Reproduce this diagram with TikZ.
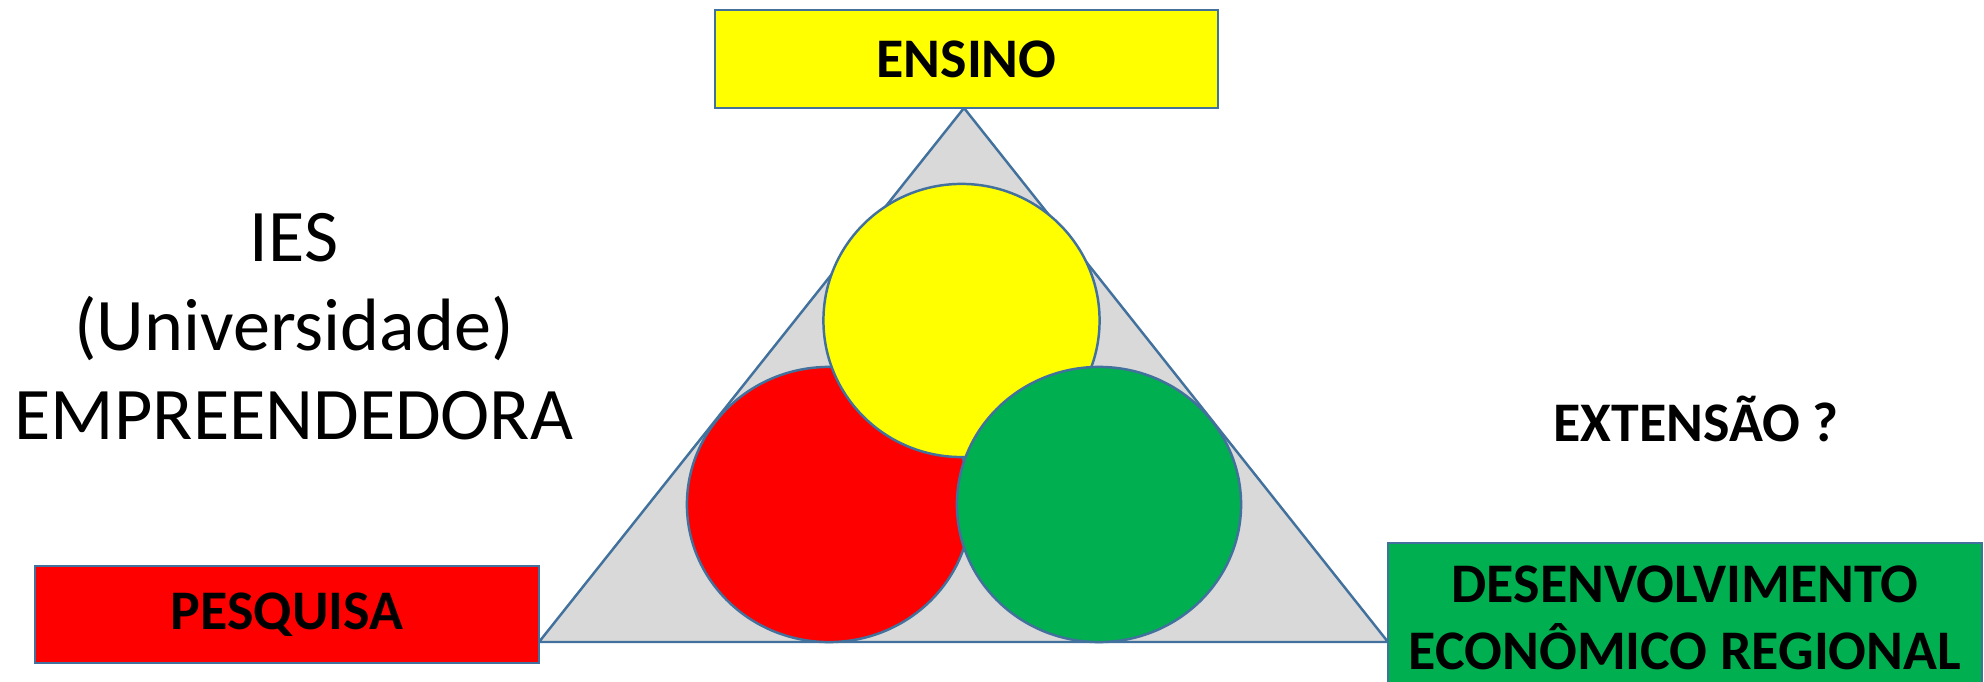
\documentclass[tikz,border=0pt]{standalone}
\usepackage{fontspec}
\setmainfont{Carlito}
\usetikzlibrary{positioning}

\definecolor{borda}{HTML}{41719C}
\definecolor{amarelo}{HTML}{FFFF00}
\definecolor{vermelho}{HTML}{FF0000}
\definecolor{verde}{HTML}{00B050}
\definecolor{cinza}{HTML}{D9D9D9}

\tikzset{
  caixa/.style={draw=borda, line width=0.7pt, inner sep=0pt, align=center,
    font=\fontsize{15.9}{19}\selectfont\bfseries},
  circulo/.style={draw=borda, line width=0.7pt},
}

\begin{document}
\begin{tikzpicture}[x=0.01cm, y=-0.01cm]
\useasboundingbox (0,0) rectangle (1984,682);
% triangulo
\coordinate (topo) at (964,108);
\coordinate (esq) at (539,642);
\coordinate (dir) at (1388,642);
\draw[fill=cinza, draw=borda, line width=0.7pt] (topo) -- (esq) -- (dir) -- cycle;
% circulos
\draw[circulo, fill=vermelho] (829,504.5) ellipse [x radius=1.42cm, y radius=1.375cm];
\draw[circulo, fill=amarelo] (961.5,320.5) ellipse [x radius=1.38cm, y radius=1.365cm];
\draw[circulo, fill=verde] (1099,504.5) ellipse [x radius=1.42cm, y radius=1.375cm];
% caixas
\node[caixa, fill=amarelo, minimum width=5.03cm, minimum height=0.98cm] (ensino) at (966.5,59) {ENSINO};
\node[caixa, fill=vermelho, minimum width=5.04cm, minimum height=0.97cm] (pesquisa) at (287,614.5) {PESQUISA};
\node[caixa, fill=verde, minimum width=5.94cm, minimum height=1.49cm] (desenv) at (1685,617.5) {DESENVOLVIMENTO\\ECONÔMICO REGIONAL};
% textos
\node[align=center, font=\fontsize{21.1}{25.3}\selectfont] (ies) at (294,327) {IES\\(Universidade)\\EMPREENDEDORA};
\node[font=\fontsize{15.9}{19}\selectfont\bfseries] (extensao) at (1696,419) {EXTENSÃO ?};
\end{tikzpicture}
\end{document}
